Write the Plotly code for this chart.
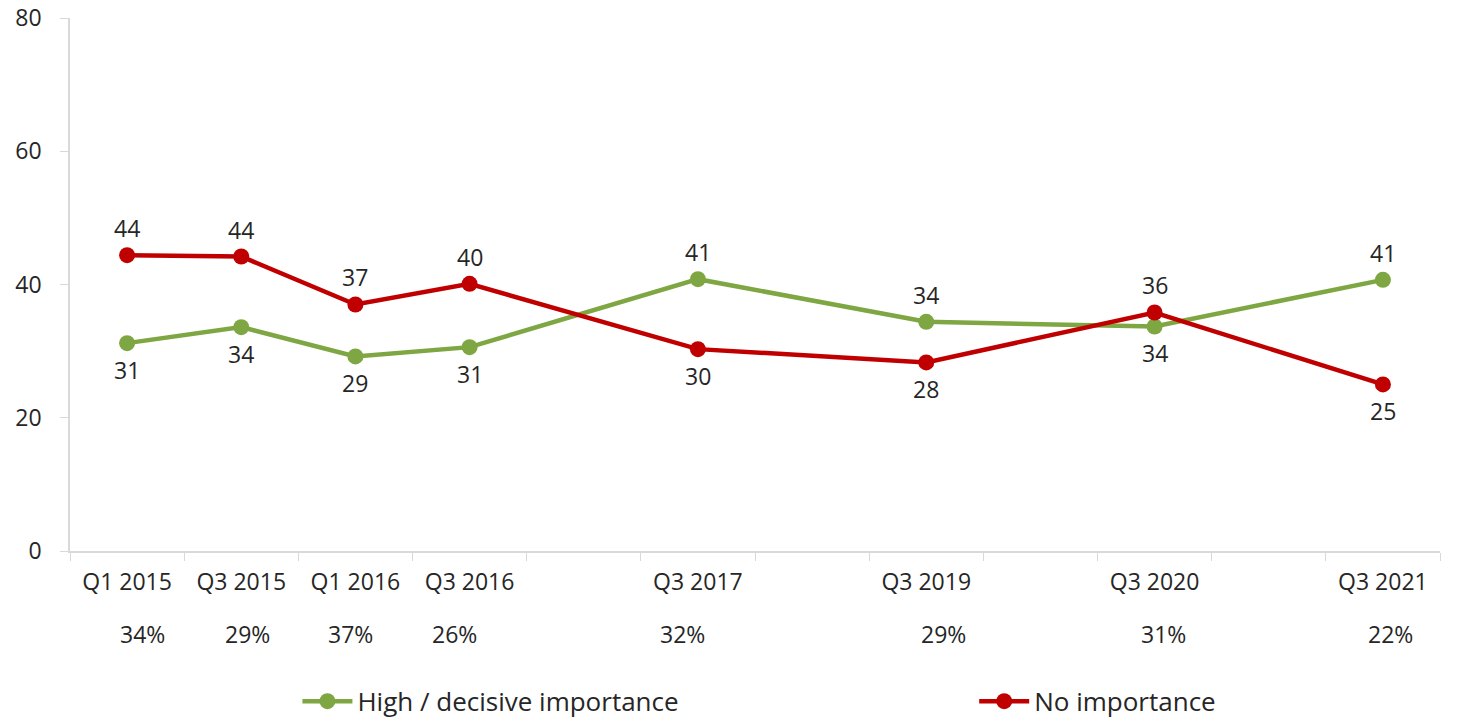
import plotly.graph_objects as go

# Survey waves (blank slots keep the uneven spacing between waves)
slots = ["Q1 2015", "Q3 2015", "Q1 2016", "Q3 2016", " ", "Q3 2017", "  ",
         "Q3 2019", "   ", "Q3 2020", "    ", "Q3 2021"]
periods = ["Q1 2015", "Q3 2015", "Q1 2016", "Q3 2016",
           "Q3 2017", "Q3 2019", "Q3 2020", "Q3 2021"]

high_importance = [31.2, 33.6, 29.2, 30.6, 40.8, 34.4, 33.7, 40.7]
no_importance = [44.4, 44.2, 37.0, 40.1, 30.3, 28.3, 35.8, 25.0]

# label placement for each series: +1 above the point, -1 below
high_label_side = [-1, -1, -1, -1, 1, 1, -1, 1]
no_label_side = [1, 1, 1, 1, -1, -1, 1, -1]

share_row = ["34%", "29%", "37%", "26%", "32%", "29%", "31%", "22%"]
share_nudge = [15, 6, -5, -15, -15, 17, 9, 8]

GREEN = "#7EA642"
RED = "#C00000"
TEXT = "#262626"
AXIS = "#D9D9D9"
FONT = "Open Sans"
FS = 23

fig = go.Figure()
fig.add_trace(go.Scatter(
    x=periods, y=high_importance, mode="lines+markers",
    name="High / decisive importance", legend="legend",
    line=dict(color=GREEN, width=4.5),
    marker=dict(color=GREEN, size=16),
))
fig.add_trace(go.Scatter(
    x=periods, y=no_importance, mode="lines+markers",
    name="No importance", legend="legend2",
    line=dict(color=RED, width=4.5),
    marker=dict(color=RED, size=16),
))

annotations = []
for values, sides in ((high_importance, high_label_side), (no_importance, no_label_side)):
    for p, v, s in zip(periods, values, sides):
        annotations.append(dict(
            x=p, y=v, xref="x", yref="y", text=str(round(v)),
            showarrow=False, yshift=27 * s,
            font=dict(family=FONT, size=FS, color=TEXT),
        ))

for p, t, dx in zip(periods, share_row, share_nudge):
    annotations.append(dict(
        x=p, y=-0.156, xref="x", yref="paper", text=t, showarrow=False,
        xshift=dx, yanchor="middle",
        font=dict(family=FONT, size=FS, color=TEXT),
    ))

legend_style = dict(
    orientation="h", yanchor="middle", xanchor="left", y=-0.282,
    itemwidth=50, bgcolor="rgba(0,0,0,0)",
    font=dict(family=FONT, size=26, color=TEXT),
)

fig.update_layout(
    width=1458, height=721,
    margin=dict(l=70, r=18, t=18, b=170, autoexpand=False),
    paper_bgcolor="white", plot_bgcolor="white",
    font=dict(family=FONT, size=FS, color=TEXT),
    showlegend=True,
    legend=dict(x=0.166, **legend_style),
    legend2=dict(x=0.660, **legend_style),
    annotations=annotations,
)
fig.update_xaxes(
    type="category", categoryorder="array", categoryarray=slots,
    tickmode="array", tickvals=slots, ticktext=slots,
    tickson="boundaries", ticks="outside", ticklen=8, tickcolor=AXIS,
    showline=True, linecolor=AXIS, linewidth=1.5,
    showgrid=False, zeroline=False, range=[-0.5, 11.5],
    ticklabelstandoff=10, automargin=False,
    tickfont=dict(family=FONT, size=FS, color=TEXT),
)
fig.update_yaxes(
    range=[0, 80], tickvals=[0, 20, 40, 60, 80],
    ticks="outside", ticklen=8, tickcolor=AXIS,
    showline=True, linecolor=AXIS, linewidth=1.5,
    showgrid=False, zeroline=False,
    ticklabelstandoff=14, automargin=False,
    tickfont=dict(family=FONT, size=FS, color=TEXT),
)

fig.write_html("out.html")
